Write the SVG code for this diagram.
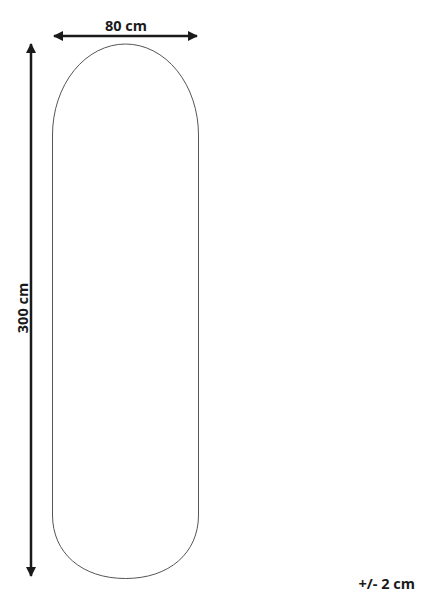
<svg xmlns="http://www.w3.org/2000/svg" width="422" height="600" viewBox="0 0 422 600">
  <defs>
    <marker id="ah" viewBox="0 0 10 10" refX="9" refY="5" markerWidth="4.2" markerHeight="4" orient="auto-start-reverse" markerUnits="strokeWidth">
      <path d="M0,0 L10,5 L0,10 Z" fill="#1a1a1a"/>
    </marker>
  </defs>
  <style>
    .dim { stroke:#1a1a1a; stroke-width:2.5; fill:none; }
    .lbl { font-family:"Open Sans","Liberation Sans",sans-serif; font-weight:bold; font-size:14.5px; fill:#1a1a1a; }
    .mirror { fill:#fff; stroke:#555; stroke-width:1; }
  </style>
  <rect width="422" height="600" fill="#fff"/>
  <g id="mirror">
    <path class="mirror" d="M52.5,135 A73,91 0 0 1 198.5,135 L198.5,515 C198.5,553 169.3,578.5 125.5,578.5 C81.7,578.5 52.5,553 52.5,515 Z"/>
  </g>
  <g id="connectors">
    <line class="dim" x1="54" y1="36" x2="197" y2="36" marker-start="url(#ah)" marker-end="url(#ah)"/>
    <line class="dim" x1="31" y1="44" x2="31" y2="576" marker-start="url(#ah)" marker-end="url(#ah)"/>
  </g>
  <g id="label-width">
    <text class="lbl" x="126" y="31" text-anchor="middle">80 cm</text>
  </g>
  <g id="label-height">
    <text class="lbl" x="0" y="0" text-anchor="middle" transform="translate(27.5,308) rotate(-90)">300 cm</text>
  </g>
  <g id="label-tolerance">
    <text class="lbl" x="415" y="589" text-anchor="end">+/- 2 cm</text>
  </g>
</svg>
